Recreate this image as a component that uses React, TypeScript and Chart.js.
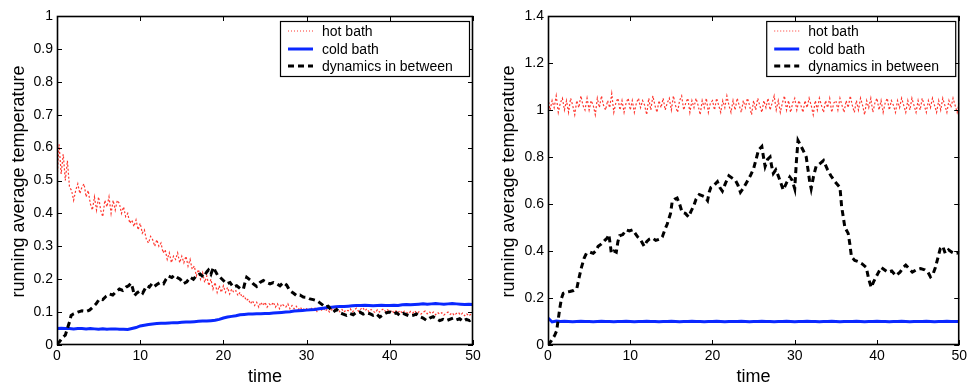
import React, { useEffect, useRef } from "react";
import { Chart, registerables } from "chart.js";

Chart.register(...registerables);

const FONT = "'Liberation Sans', Arial, Helvetica, sans-serif";

// ---- axes ----
const TIME_MIN = 0;
const TIME_MAX = 50;
const TIME_STEP_TICK = 10;
const LEFT_Y_MAX = 1;
const LEFT_Y_STEP = 0.1;
const RIGHT_Y_MAX = 1.4;
const RIGHT_Y_STEP = 0.2;
const HOT_STEP = 0.25; // sampling interval of hot-bath series
const COLD_STEP = 0.5; // sampling interval of cold-bath series

const X_TITLE = "time";
const Y_TITLE = "running average temperature";
const SERIES_NAMES = ["hot bath", "cold bath", "dynamics in between"];

// ---- left panel data ----
const hotLeft = [
  0.50, 0.61, 0.52, 0.58, 0.50, 0.56, 0.48, 0.47, 0.44, 0.47, 0.49, 0.46, 0.48, 0.49, 0.45, 0.47, 0.43, 0.41, 0.45, 0.41,
  0.45, 0.41, 0.39, 0.44, 0.42, 0.45, 0.40, 0.44, 0.41, 0.44, 0.43, 0.40, 0.42, 0.39, 0.40, 0.37, 0.38, 0.36, 0.38, 0.35,
  0.37, 0.34, 0.35, 0.32, 0.31, 0.33, 0.32, 0.30, 0.32, 0.30, 0.31, 0.28, 0.29, 0.26, 0.28, 0.25, 0.27, 0.26, 0.28, 0.25,
  0.27, 0.25, 0.27, 0.24, 0.26, 0.23, 0.24, 0.21, 0.23, 0.20, 0.22, 0.19, 0.21, 0.18, 0.20, 0.17, 0.19, 0.16, 0.18, 0.16,
  0.18, 0.16, 0.175, 0.155, 0.17, 0.16, 0.165, 0.15, 0.16, 0.145, 0.15, 0.135, 0.14, 0.125, 0.135, 0.12, 0.13, 0.115, 0.13, 0.12,
  0.13, 0.115, 0.125, 0.12, 0.13, 0.115, 0.125, 0.11, 0.125, 0.12, 0.115, 0.125, 0.11, 0.12, 0.11, 0.118, 0.108, 0.115, 0.105, 0.112,
  0.11, 0.104, 0.114, 0.106, 0.112, 0.102, 0.11, 0.104, 0.113, 0.103, 0.109, 0.1, 0.107, 0.112, 0.103, 0.109, 0.101, 0.108, 0.1, 0.107,
  0.104, 0.11, 0.1, 0.107, 0.112, 0.102, 0.109, 0.114, 0.104, 0.11, 0.101, 0.108, 0.103, 0.098, 0.107, 0.1, 0.106, 0.11, 0.101, 0.107,
  0.1, 0.106, 0.097, 0.104, 0.099, 0.105, 0.096, 0.103, 0.1, 0.095, 0.102, 0.097, 0.104, 0.096, 0.101, 0.094, 0.1, 0.103, 0.095, 0.101,
  0.095, 0.1, 0.092, 0.099, 0.094, 0.098, 0.091, 0.097, 0.1, 0.093, 0.098, 0.09, 0.096, 0.099, 0.091, 0.097, 0.089, 0.095, 0.088, 0.094,
  0.098,
];

const coldLeft = [
  0.05, 0.051, 0.05, 0.05, 0.049, 0.05, 0.05, 0.049, 0.05, 0.049, 0.048, 0.049, 0.048, 0.049, 0.049, 0.048, 0.048, 0.047, 0.05, 0.053,
  0.058, 0.06, 0.062, 0.064, 0.065, 0.066, 0.066, 0.067, 0.068, 0.068, 0.069, 0.07, 0.07, 0.071, 0.072, 0.073, 0.073, 0.074, 0.075, 0.078,
  0.082, 0.085, 0.087, 0.089, 0.092, 0.093, 0.094, 0.094, 0.095, 0.095, 0.096, 0.096, 0.097, 0.098, 0.099, 0.1, 0.101, 0.103, 0.104, 0.105,
  0.106, 0.107, 0.108, 0.11, 0.112, 0.114, 0.115, 0.116, 0.117, 0.117, 0.118, 0.119, 0.12, 0.12, 0.121, 0.12, 0.119, 0.12, 0.121, 0.12,
  0.12, 0.121, 0.12, 0.122, 0.123, 0.122, 0.123, 0.124, 0.125, 0.124, 0.125, 0.126, 0.125, 0.124, 0.125, 0.126, 0.125, 0.124, 0.123, 0.124,
  0.123,
];

const dynamicsLeft: [number, number][] = [
  [0, 0.003], [0.3, 0.01], [0.7, 0.024], [1.0, 0.03], [1.3, 0.054], [1.5, 0.07], [1.7, 0.09], [2.0, 0.095], [2.5, 0.1], [3.0, 0.104],
  [3.5, 0.102], [3.9, 0.106], [4.3, 0.115], [4.7, 0.125], [5.1, 0.14], [5.5, 0.138], [5.9, 0.148], [6.3, 0.155], [6.7, 0.152], [7.1, 0.162],
  [7.5, 0.17], [7.9, 0.166], [8.3, 0.176], [8.6, 0.18], [8.9, 0.188], [9.1, 0.172], [9.3, 0.15], [9.6, 0.158], [10.0, 0.165], [10.3, 0.158],
  [10.6, 0.172], [10.8, 0.18], [11.1, 0.176], [11.4, 0.186], [11.7, 0.178], [12.0, 0.184], [12.4, 0.19], [12.8, 0.186], [13.1, 0.2], [13.4, 0.21],
  [13.8, 0.205], [14.1, 0.212], [14.4, 0.206], [14.8, 0.2], [15.2, 0.186], [15.6, 0.192], [16.0, 0.206], [16.4, 0.2], [16.8, 0.212], [17.2, 0.216],
  [17.6, 0.206], [18.0, 0.222], [18.2, 0.228], [18.5, 0.215], [18.8, 0.236], [19.0, 0.226], [19.3, 0.212], [19.6, 0.206], [20.0, 0.196], [20.4, 0.186],
  [20.8, 0.19], [21.2, 0.176], [21.6, 0.18], [22.0, 0.172], [22.4, 0.17], [22.6, 0.19], [22.8, 0.206], [23.2, 0.198], [23.6, 0.186], [24.0, 0.178],
  [24.4, 0.19], [24.8, 0.196], [25.2, 0.19], [25.6, 0.186], [26.0, 0.19], [26.4, 0.186], [26.8, 0.18], [27.2, 0.19], [27.6, 0.182], [28.0, 0.165],
  [28.4, 0.158], [28.8, 0.15], [29.2, 0.152], [29.6, 0.146], [30.0, 0.145], [30.4, 0.14], [30.8, 0.138], [31.2, 0.135], [31.6, 0.128], [32.0, 0.12],
  [32.2, 0.115], [32.6, 0.118], [33.0, 0.104], [33.2, 0.1], [33.6, 0.108], [34.0, 0.098], [34.4, 0.094], [34.8, 0.09], [35.2, 0.096], [35.6, 0.092],
  [36.0, 0.1], [36.4, 0.1], [36.8, 0.094], [37.2, 0.098], [37.6, 0.095], [38.0, 0.09], [38.4, 0.094], [38.8, 0.085], [39.2, 0.092], [39.6, 0.098],
  [40.0, 0.1], [40.4, 0.094], [40.8, 0.098], [41.2, 0.09], [41.6, 0.096], [42.0, 0.092], [42.4, 0.088], [42.8, 0.09], [43.2, 0.094], [43.6, 0.086],
  [44.0, 0.082], [44.4, 0.075], [44.8, 0.082], [45.2, 0.086], [45.6, 0.08], [46.0, 0.074], [46.4, 0.078], [46.8, 0.074], [47.2, 0.078], [47.6, 0.082],
  [48.0, 0.076], [48.4, 0.08], [48.8, 0.072], [49.2, 0.078], [49.6, 0.074], [50.0, 0.082],
];

// ---- right panel data ----
const hotRight = [
  1.05, 1.0, 1.04, 1.01, 1.06, 0.99, 1.03, 1.05, 1.0, 1.04, 0.99, 1.05, 1.02, 0.98, 1.04, 1.01, 1.06, 1.02, 1.0, 1.05,
  1.0, 1.04, 1.02, 0.98, 1.05, 1.01, 1.06, 1.02, 1.0, 1.04, 1.01, 1.07, 0.99, 1.03, 1.05, 1.0, 1.04, 0.99, 1.03, 1.05,
  1.0, 1.04, 0.99, 1.03, 1.05, 1.01, 1.04, 1.02, 0.98, 1.05, 1.0, 1.06, 1.02, 0.99, 1.04, 1.01, 1.05, 1.0, 1.03, 1.05,
  1.0, 1.06, 1.02, 0.99, 1.04, 1.06, 1.0, 1.03, 1.05, 0.99, 1.04, 1.01, 1.05, 1.02, 0.98, 1.04, 1.01, 1.05, 0.99, 1.03,
  1.04, 1.0, 1.05, 1.02, 0.99, 1.04, 1.01, 1.06, 1.02, 0.99, 1.04, 1.0, 1.05, 1.02, 0.99, 1.04, 1.01, 1.05, 1.02, 0.98,
  1.04, 1.0, 1.05, 1.02, 0.99, 1.04, 1.01, 1.05, 1.0, 1.03, 1.06, 1.0, 1.04, 0.99, 1.03, 1.06, 1.0, 1.04, 0.99, 1.03,
  1.05, 1.0, 1.04, 1.02, 0.99, 1.04, 1.01, 1.05, 1.02, 0.98, 1.04, 1.0, 1.05, 1.02, 0.99, 1.04, 1.01, 1.05, 0.99, 1.03,
  1.04, 1.0, 1.05, 1.02, 0.99, 1.04, 1.01, 1.06, 1.02, 0.99, 1.04, 1.0, 1.05, 1.02, 0.98, 1.04, 1.01, 1.05, 0.99, 1.03,
  1.05, 1.0, 1.04, 0.99, 1.03, 1.05, 1.0, 1.04, 1.02, 0.99, 1.04, 1.01, 1.05, 1.02, 0.99, 1.04, 1.0, 1.05, 1.02, 0.99,
  1.04, 1.0, 1.05, 1.02, 0.99, 1.04, 1.01, 1.05, 1.02, 0.99, 1.04, 1.0, 1.05, 1.02, 0.99, 1.04, 1.01, 1.05, 1.02, 0.99,
  1.03,
];

const coldRight = [
  0.115, 0.098, 0.102, 0.1, 0.101, 0.1, 0.099, 0.1, 0.101, 0.1, 0.1, 0.099, 0.1, 0.101, 0.1, 0.1, 0.099, 0.1, 0.1, 0.101,
  0.1, 0.099, 0.1, 0.1, 0.101, 0.1, 0.1, 0.099, 0.1, 0.1, 0.101, 0.1, 0.099, 0.1, 0.1, 0.101, 0.1, 0.1, 0.099, 0.1,
  0.1, 0.101, 0.1, 0.099, 0.1, 0.1, 0.1, 0.101, 0.1, 0.099, 0.1, 0.1, 0.101, 0.1, 0.1, 0.099, 0.1, 0.1, 0.101, 0.1,
  0.099, 0.1, 0.1, 0.101, 0.1, 0.1, 0.099, 0.1, 0.1, 0.101, 0.1, 0.099, 0.1, 0.1, 0.1, 0.101, 0.1, 0.099, 0.1, 0.1,
  0.101, 0.1, 0.1, 0.099, 0.1, 0.1, 0.101, 0.1, 0.099, 0.1, 0.1, 0.1, 0.101, 0.1, 0.099, 0.1, 0.1, 0.101, 0.1, 0.1,
  0.1,
];

const dynamicsRight: [number, number][] = [
  [0, 0], [0.4, 0.018], [0.8, 0.04], [1.05, 0.06], [1.25, 0.11], [1.45, 0.16], [1.65, 0.2], [1.85, 0.22], [2.2, 0.225], [2.66, 0.228],
  [3.1, 0.232], [3.5, 0.24], [3.8, 0.29], [4.07, 0.33], [4.4, 0.37], [4.67, 0.39], [5.1, 0.395], [5.5, 0.39], [5.8, 0.4], [6.1, 0.42],
  [6.5, 0.43], [6.9, 0.445], [7.2, 0.455], [7.4, 0.47], [7.6, 0.42], [7.7, 0.39], [8.0, 0.4], [8.3, 0.395], [8.5, 0.44], [8.7, 0.465],
  [9.1, 0.47], [9.5, 0.49], [9.9, 0.485], [10.3, 0.49], [10.6, 0.475], [10.9, 0.46], [11.3, 0.445], [11.7, 0.42], [12.0, 0.44], [12.3, 0.45],
  [12.7, 0.455], [13.1, 0.445], [13.5, 0.45], [13.9, 0.46], [14.2, 0.49], [14.5, 0.515], [14.9, 0.56], [15.1, 0.61], [15.4, 0.62], [15.7, 0.625],
  [16.0, 0.6], [16.3, 0.565], [16.7, 0.56], [17.1, 0.545], [17.4, 0.57], [17.7, 0.59], [18.0, 0.62], [18.4, 0.64], [18.8, 0.635], [19.1, 0.63],
  [19.4, 0.615], [19.6, 0.65], [19.8, 0.67], [20.2, 0.68], [20.6, 0.695], [20.9, 0.67], [21.2, 0.655], [21.6, 0.69], [22.0, 0.72], [22.4, 0.71],
  [22.8, 0.7], [23.1, 0.68], [23.4, 0.65], [23.8, 0.67], [24.2, 0.695], [24.6, 0.72], [25.0, 0.75], [25.3, 0.79], [25.6, 0.83], [26.0, 0.845],
  [26.2, 0.8], [26.4, 0.76], [26.7, 0.79], [27.0, 0.8], [27.2, 0.76], [27.4, 0.73], [27.7, 0.745], [28.0, 0.72], [28.3, 0.69], [28.6, 0.66],
  [29.0, 0.69], [29.4, 0.715], [29.7, 0.7], [30.0, 0.665], [30.2, 0.78], [30.4, 0.87], [30.7, 0.85], [31.0, 0.83], [31.4, 0.8], [31.6, 0.75],
  [31.8, 0.7], [32.0, 0.665], [32.3, 0.72], [32.6, 0.76], [33.0, 0.77], [33.5, 0.785], [34.0, 0.745], [34.4, 0.72], [34.9, 0.695], [35.5, 0.67],
  [35.7, 0.59], [36.1, 0.5], [36.5, 0.475], [36.7, 0.43], [36.9, 0.375], [37.3, 0.36], [37.7, 0.355], [38.2, 0.345], [38.7, 0.33], [39.0, 0.28],
  [39.3, 0.245], [39.6, 0.27], [39.9, 0.29], [40.2, 0.31], [40.5, 0.33], [40.9, 0.32], [41.3, 0.31], [41.8, 0.315], [42.3, 0.295], [42.8, 0.31],
  [43.2, 0.33], [43.5, 0.34], [43.9, 0.325], [44.3, 0.31], [44.8, 0.32], [45.3, 0.325], [45.8, 0.32], [46.2, 0.31], [46.5, 0.29], [46.8, 0.3],
  [47.1, 0.33], [47.4, 0.37], [47.7, 0.41], [48.0, 0.42], [48.3, 0.39], [48.7, 0.405], [49.1, 0.395], [49.4, 0.39], [49.7, 0.39], [50.0, 0.395],
];

// ---- styles ----
const HOT_COLOR = "rgba(255, 20, 10, 0.85)";
const COLD_COLOR = "rgb(10, 40, 255)";
const DYN_COLOR = "#000";

const fmtTick = (v: any) => String(Math.round(Number(v) * 10) / 10);

const framePlugin = {
  id: "matlabFrame",
  afterDatasetsDraw(chart: any, _args: any, opts: any) {
    const { ctx, chartArea: a, scales } = chart;
    ctx.save();
    ctx.strokeStyle = "#000";
    ctx.lineWidth = 1;
    const tl = 5;
    ctx.beginPath();
    for (const t of scales.x.ticks) {
      const px = Math.round(scales.x.getPixelForValue(t.value)) + 0.5;
      ctx.moveTo(px, a.bottom);
      ctx.lineTo(px, a.bottom - tl);
      ctx.moveTo(px, a.top);
      ctx.lineTo(px, a.top + tl);
    }
    for (const t of scales.y.ticks) {
      const py = Math.round(scales.y.getPixelForValue(t.value)) + 0.5;
      ctx.moveTo(a.left, py);
      ctx.lineTo(a.left + tl, py);
      ctx.moveTo(a.right, py);
      ctx.lineTo(a.right - tl, py);
    }
    ctx.stroke();
    ctx.lineWidth = 1.6;
    ctx.strokeRect(a.left + 0.5, a.top + 0.5, a.right - a.left - 1, a.bottom - a.top - 1);

    // axis titles
    ctx.fillStyle = "#000";
    ctx.font = `18px ${FONT}`;
    ctx.textAlign = "center";
    ctx.textBaseline = "middle";
    ctx.fillText(X_TITLE, (a.left + a.right) / 2, opts.xTitleY);
    ctx.save();
    ctx.translate(opts.yTitleX, (a.top + a.bottom) / 2 + 1);
    ctx.rotate(-Math.PI / 2);
    ctx.fillText(Y_TITLE, 0, 0);
    ctx.restore();

    // legend
    const bw = 189;
    const bh = 55;
    const bx = a.right - 4 - bw;
    const by = a.top + 5;
    ctx.fillStyle = "#fff";
    ctx.fillRect(bx, by, bw, bh);
    ctx.lineWidth = 1.2;
    ctx.strokeStyle = "#000";
    ctx.strokeRect(bx + 0.5, by + 0.5, bw, bh);
    const rows = [by + 10, by + 28, by + 45];
    const styles = [
      { color: HOT_COLOR, width: 1, dash: [1, 2] },
      { color: COLD_COLOR, width: 3, dash: [] },
      { color: DYN_COLOR, width: 3, dash: [6, 4] },
    ];
    rows.forEach((ry, i) => {
      const s = styles[i];
      ctx.beginPath();
      ctx.strokeStyle = s.color;
      ctx.lineWidth = s.width;
      ctx.setLineDash(s.dash);
      ctx.moveTo(bx + 8, ry);
      ctx.lineTo(bx + 33, ry);
      ctx.stroke();
      ctx.setLineDash([]);
      ctx.fillStyle = "#000";
      ctx.font = `14px ${FONT}`;
      ctx.textAlign = "left";
      ctx.textBaseline = "middle";
      ctx.fillText(SERIES_NAMES[i], bx + 42, ry + 1);
    });
    ctx.restore();
  },
};

type PanelProps = {
  hot: number[];
  cold: number[];
  dyn: [number, number][];
  yMax: number;
  yStep: number;
  yAxisWidth: number;
  rightPad: number;
  yTitleX: number;
  left: number;
};

function Panel(p: PanelProps) {
  const ref = useRef<HTMLCanvasElement | null>(null);
  useEffect(() => {
    if (!ref.current) return;
    const hotData = p.hot.map((v, i) => ({ x: i * HOT_STEP, y: v }));
    const coldData = p.cold.map((v, i) => ({ x: i * COLD_STEP, y: v }));
    const dynData = p.dyn.map(([t, v]) => ({ x: t, y: v }));
    const chart = new Chart(ref.current, {
      type: "line",
      data: {
        datasets: [
          {
            label: SERIES_NAMES[0],
            data: hotData,
            borderColor: HOT_COLOR,
            borderWidth: 1.2,
            borderDash: [2, 2],
            pointRadius: 0,
            tension: 0,
            order: 3,
          },
          {
            label: SERIES_NAMES[1],
            data: coldData,
            borderColor: COLD_COLOR,
            borderWidth: 3,
            pointRadius: 0,
            tension: 0,
            order: 2,
          },
          {
            label: SERIES_NAMES[2],
            data: dynData,
            borderColor: DYN_COLOR,
            borderWidth: 3,
            borderDash: [6, 4],
            pointRadius: 0,
            tension: 0,
            order: 1,
          },
        ],
      },
      options: {
        animation: false,
        responsive: false,
        events: [],
        layout: { padding: { left: 0, right: p.rightPad, top: 16, bottom: 0 } },
        plugins: {
          legend: { display: false },
          tooltip: { enabled: false },
          matlabFrame: { xTitleY: 377, yTitleX: p.yTitleX },
        } as any,
        scales: {
          x: {
            type: "linear",
            min: TIME_MIN,
            max: TIME_MAX,
            ticks: {
              stepSize: TIME_STEP_TICK,
              color: "#000",
              font: { family: FONT, size: 14 },
              padding: 3,
              maxRotation: 0,
              autoSkip: false,
              callback: fmtTick,
            },
            grid: { display: false, drawTicks: false },
            border: { display: false },
            afterFit: (s: any) => {
              s.height = 38;
            },
          },
          y: {
            type: "linear",
            min: 0,
            max: p.yMax,
            ticks: {
              stepSize: p.yStep,
              color: "#000",
              font: { family: FONT, size: 14 },
              padding: 4,
              autoSkip: false,
              callback: fmtTick,
            },
            grid: { display: false, drawTicks: false },
            border: { display: false },
            afterFit: (s: any) => {
              s.width = p.yAxisWidth;
            },
          },
        },
      },
      plugins: [framePlugin],
    } as any);
    return () => chart.destroy();
  }, []);
  return (
    <canvas
      ref={ref}
      width={485}
      height={383}
      style={{ position: "absolute", left: p.left, top: 0, width: 485, height: 383, display: "block" }}
    />
  );
}

export default function App() {
  return (
    <div style={{ position: "fixed", left: 0, top: 0, width: 970, height: 383, background: "#fff" }}>
      <Panel
        hot={hotLeft}
        cold={coldLeft}
        dyn={dynamicsLeft}
        yMax={LEFT_Y_MAX}
        yStep={LEFT_Y_STEP}
        yAxisWidth={57}
        rightPad={12}
        yTitleX={19}
        left={0}
      />
      <Panel
        hot={hotRight}
        cold={coldRight}
        dyn={dynamicsRight}
        yMax={RIGHT_Y_MAX}
        yStep={RIGHT_Y_STEP}
        yAxisWidth={63}
        rightPad={8}
        yTitleX={24}
        left={485}
      />
    </div>
  );
}
